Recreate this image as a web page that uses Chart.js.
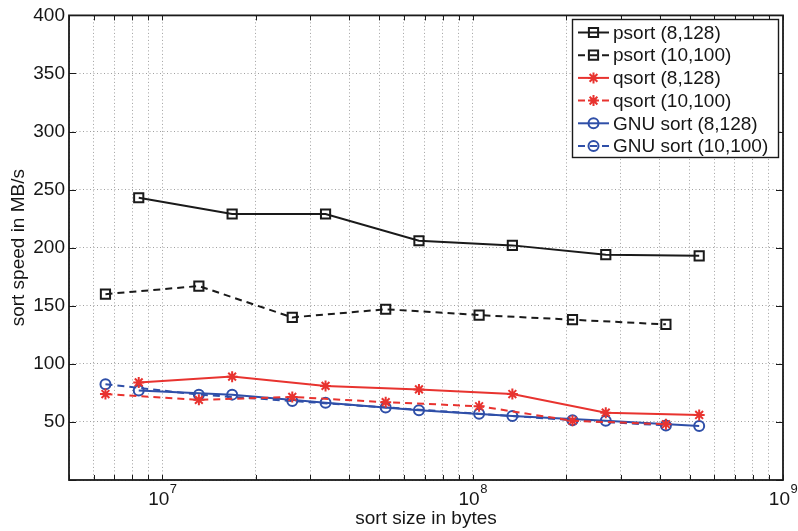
<!DOCTYPE html>
<html>
<head>
<meta charset="utf-8">
<title>sort speed</title>
<script src="https://cdn.jsdelivr.net/npm/chart.js@4.4.0/dist/chart.umd.min.js"></script>
<style>
  html, body { margin: 0; padding: 0; background: #fff; }
  canvas { display: block; }
</style>
</head>
<body>
<canvas id="chart" width="798" height="531"></canvas>
<script>
// input sizes in bytes: 128-byte records and 100-byte records (2^16 .. 2^22 records)
const sizes128 = [8388608, 16777216, 33554432, 67108864, 134217728, 268435456, 536870912];
const sizes100 = [6553600, 13107200, 26214400, 52428800, 104857600, 209715200, 419430400];

// sort speed in MB/s
const psort128 = [243, 229, 229, 206, 202, 194, 193];
const psort100 = [160, 167, 140, 147, 142, 138, 134];
const qsort128 = [84, 89, 81, 78, 74, 58, 56];
const qsort100 = [74, 69, 71.5, 67, 63.5, 51, 48];
const gnu128 = [77, 73.5, 66.5, 60, 55, 51, 46.5];
const gnu100 = [82.5, 73.5, 68, 62.5, 57, 51.5, 47];

// axis labels
const xTickExponents = [7, 8, 9];
const yTickStep = 50;

const FONT = '"Liberation Sans", Arial, Helvetica, sans-serif';
const TEXT = '#161616';
const BLACK = '#1a1a1a';
const RED = '#e8332f';
const BLUE = '#2f4fa8';
const GRID = '#a0a0a0';

function pairs(xs, ys) {
  return xs.map((x, i) => ({ x: x, y: ys[i] }));
}

function series(label, xs, ys, color, dashed, marker, radius) {
  return {
    label: label,
    data: pairs(xs, ys),
    borderColor: color,
    backgroundColor: 'transparent',
    borderWidth: 2,
    borderDash: dashed ? [7, 5] : [],
    pointStyle: marker,
    pointRadius: radius,
    pointHoverRadius: radius,
    pointBorderColor: color,
    pointBackgroundColor: 'transparent',
    pointBorderWidth: 2,
    tension: 0,
    fill: false
  };
}

// minor + major grid positions for the log axis, 5e6 .. 1e9
const xGrid = [];
for (let e = 6; e <= 8; e++) {
  for (let m = 1; m <= 9; m++) {
    const v = m * Math.pow(10, e);
    if (v >= 5e6) xGrid.push(v);
  }
}
xGrid.push(1e9);

// box around the plot with inward tick marks, plus custom 10^n labels
const frame = {
  id: 'frame',
  afterDraw(chart) {
    const { ctx, chartArea: a, scales } = chart;
    const xs = scales.x, ys = scales.y;
    ctx.save();
    ctx.strokeStyle = BLACK;
    ctx.lineWidth = 1;
    ctx.setLineDash([]);
    ctx.beginPath();
    xs.ticks.forEach(t => {
      const px = Math.round(xs.getPixelForValue(t.value)) + 0.5;
      ctx.moveTo(px, a.bottom); ctx.lineTo(px, a.bottom - 5);
      ctx.moveTo(px, a.top); ctx.lineTo(px, a.top + 5);
    });
    ys.ticks.forEach(t => {
      const py = Math.round(ys.getPixelForValue(t.value)) + 0.5;
      ctx.moveTo(a.left, py); ctx.lineTo(a.left + 7, py);
      ctx.moveTo(a.right, py); ctx.lineTo(a.right - 7, py);
    });
    ctx.stroke();

    ctx.lineWidth = 1.8;
    ctx.strokeRect(a.left, a.top, a.right - a.left, a.bottom - a.top);

    ctx.fillStyle = TEXT;
    ctx.textBaseline = 'middle';
    ctx.textAlign = 'left';
    xTickExponents.forEach(e => {
      const px = xs.getPixelForValue(Math.pow(10, e));
      ctx.font = '19px ' + FONT;
      const w1 = ctx.measureText('10').width;
      ctx.font = '13px ' + FONT;
      const w2 = ctx.measureText(String(e)).width;
      const x0 = px - (w1 + w2) / 2;
      ctx.font = '19px ' + FONT;
      ctx.fillText('10', x0, a.bottom + 20);
      ctx.font = '13px ' + FONT;
      ctx.fillText(String(e), x0 + w1 + 0.5, a.bottom + 9);
    });
    ctx.restore();
  }
};

// boxed legend in the upper right, line sample with marker in the middle
const boxLegend = {
  id: 'boxLegend',
  afterDraw(chart) {
    const ctx = chart.ctx;
    const left = 572, top = 19, width = 206, height = 138, rowH = 22.7;
    ctx.save();
    ctx.fillStyle = '#fff';
    ctx.fillRect(left, top, width, height);
    ctx.strokeStyle = BLACK;
    ctx.lineWidth = 1.4;
    ctx.setLineDash([]);
    ctx.strokeRect(left + 0.5, top + 0.5, width, height);

    chart.data.datasets.forEach((ds, i) => {
      const y = top + 13.5 + i * rowH;
      ctx.strokeStyle = ds.borderColor;
      ctx.lineWidth = ds.borderWidth;
      ctx.setLineDash(ds.borderDash);
      ctx.beginPath();
      ctx.moveTo(left + 6, y);
      ctx.lineTo(left + 37, y);
      ctx.stroke();
      ctx.setLineDash([]);
      ctx.fillStyle = 'rgba(0,0,0,0)';
      Chart.helpers.drawPoint(ctx, {
        pointStyle: ds.pointStyle,
        radius: ds.pointRadius,
        borderWidth: ds.pointBorderWidth,
        rotation: 0
      }, left + 21.5, y);
      ctx.fillStyle = TEXT;
      ctx.font = '19px ' + FONT;
      ctx.textBaseline = 'middle';
      ctx.textAlign = 'left';
      ctx.fillText(ds.label, left + 41, y + 1);
    });
    ctx.restore();
  }
};

new Chart(document.getElementById('chart'), {
  type: 'line',
  data: {
    datasets: [
      series('psort (8,128)', sizes128, psort128, BLACK, false, 'rect', 6.5),
      series('psort (10,100)', sizes100, psort100, BLACK, true, 'rect', 6.5),
      series('qsort (8,128)', sizes128, qsort128, RED, false, 'star', 5.5),
      series('qsort (10,100)', sizes100, qsort100, RED, true, 'star', 5.5),
      series('GNU sort (8,128)', sizes128, gnu128, BLUE, false, 'circle', 5),
      series('GNU sort (10,100)', sizes100, gnu100, BLUE, true, 'circle', 5)
    ]
  },
  options: {
    responsive: false,
    animation: false,
    devicePixelRatio: 1,
    layout: { padding: { left: 0, top: 14, right: 15, bottom: 0 } },
    plugins: {
      legend: { display: false },
      tooltip: { enabled: false }
    },
    scales: {
      x: {
        type: 'logarithmic',
        min: 5e6,
        max: 1e9,
        afterBuildTicks(scale) {
          scale.ticks = xGrid.map(v => ({ value: v }));
        },
        afterFit(scale) { scale.height = 51; },
        ticks: { autoSkip: false, maxRotation: 0, callback: () => '' },
        grid: { color: GRID, lineWidth: 1, drawTicks: false },
        border: { display: false, dash: [1, 2.5] },
        title: {
          display: true,
          text: 'sort size in bytes',
          color: TEXT,
          font: { family: FONT, size: 19 },
          padding: { top: 0, bottom: 1 }
        }
      },
      y: {
        min: 0,
        max: 400,
        afterFit(scale) { scale.width = 69; },
        ticks: {
          stepSize: yTickStep,
          color: TEXT,
          padding: 4,
          font: { family: FONT, size: 19 },
          callback: v => (v === 0 ? '' : v)
        },
        grid: { color: GRID, lineWidth: 1, drawTicks: false },
        border: { display: false, dash: [1, 2.5] },
        title: {
          display: true,
          text: 'sort speed in MB/s',
          color: TEXT,
          font: { family: FONT, size: 19 },
          padding: { top: 7, bottom: 0 }
        }
      }
    }
  },
  plugins: [frame, boxLegend]
});
</script>
</body>
</html>
